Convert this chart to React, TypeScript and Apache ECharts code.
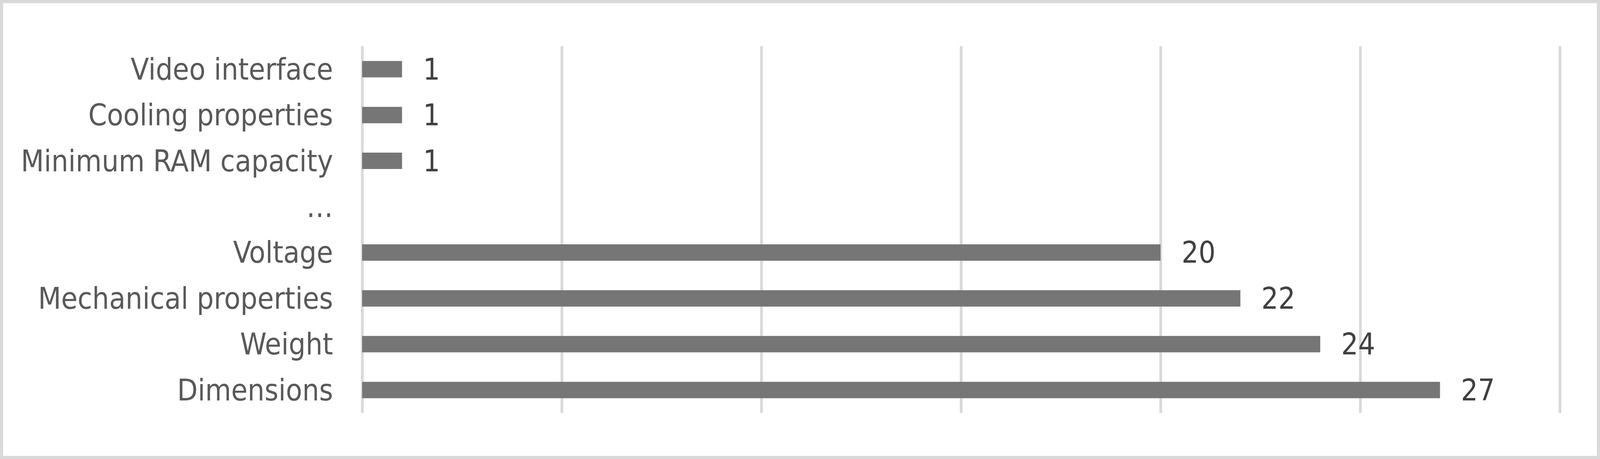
import React, { useEffect, useRef, useState } from "react";
import * as echarts from "echarts";

const categories = [
  "Dimensions",
  "Weight",
  "Mechanical properties",
  "Voltage",
  "…",
  "Minimum RAM capacity",
  "Cooling properties",
  "Video interface",
];
const values: (number | null)[] = [27, 24, 22, 20, null, 1, 1, 1];
const axisMin = 0;
const axisMax = 30;
const axisInterval = 5;

const REF_W = 4732;
const H = 1176;

function measure(font: string, text: string): number {
  const c = document.createElement("canvas").getContext("2d")!;
  c.font = font;
  return c.measureText(text).width;
}

function pickFont(): string {
  const probe = "Minimum RAM capacity 0123";
  const base = measure("100px monospace", probe);
  const cands = ["Liberation Sans Narrow", "DejaVu Sans Condensed", "Lato"];
  for (const f of cands) {
    const w = measure(`100px '${f}', monospace`, probe);
    if (Math.abs(w - base) > 1) return f;
  }
  return "Lato";
}

export default function App() {
  const ref = useRef<HTMLDivElement>(null);
  const [W] = useState(() => Math.min(window.innerWidth || REF_W, REF_W));
  useEffect(() => {
    document.body.style.margin = "0";
    if (!ref.current) return;
    const sx = W / REF_W;
    const fam = pickFont();
    const targetW = 920 * sx;
    const w100 = measure(`100px '${fam}'`, "Minimum RAM capacity");
    const fontSize = Math.round((100 * targetW) / w100);
    const FONT = `'${fam}', Lato, sans-serif`;
    const chart = echarts.init(ref.current, undefined, { renderer: "svg" });
    chart.setOption({
      animation: false,
      backgroundColor: "#ffffff",
      graphic: [
        {
          type: "rect",
          shape: { x: 4, y: 4, width: W - 8, height: H - 8 },
          style: { fill: "none", stroke: "#d9d9d9", lineWidth: 8 },
          silent: true,
        },
      ],
      grid: {
        left: 1071 * sx,
        right: W - 4613 * sx,
        top: 118.5,
        bottom: H - 1058,
        containLabel: false,
      },
      xAxis: {
        type: "value",
        min: axisMin,
        max: axisMax,
        interval: axisInterval,
        axisLabel: { show: false },
        axisLine: { show: false },
        axisTick: { show: false },
        splitLine: { show: true, lineStyle: { color: "#d9d9d9", width: 8 * sx } },
      },
      yAxis: {
        type: "category",
        data: categories,
        axisLine: { show: false },
        axisTick: { show: false },
        splitLine: { show: false },
        axisLabel: {
          color: "#595959",
          fontFamily: FONT,
          fontSize,
          margin: 86 * sx,
        },
      },
      series: [
        {
          type: "bar",
          data: values,
          barWidth: 42,
          itemStyle: { color: "#767676" },
          label: {
            show: true,
            position: "right",
            distance: 62 * sx,
            color: "#404040",
            fontFamily: FONT,
            fontSize,
          },
        },
      ],
    });
    return () => chart.dispose();
  }, [W]);
  return <div ref={ref} style={{ width: W, height: H }} />;
}
